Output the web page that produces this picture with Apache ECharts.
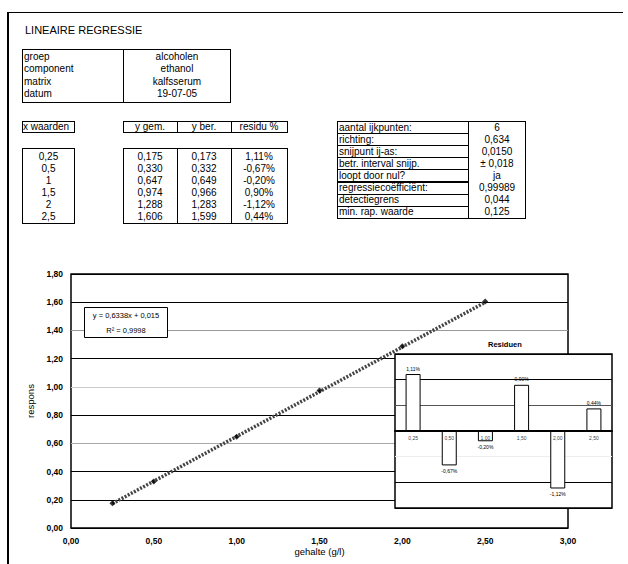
<!DOCTYPE html>
<html>
<head>
<meta charset="utf-8">
<script src="https://cdn.jsdelivr.net/npm/echarts@6/dist/echarts.min.js"></script>
<style>
  html,body{margin:0;padding:0;background:#fff;}
  body{width:628px;height:564px;position:relative;overflow:hidden;font-family:"Liberation Sans",Arial,sans-serif;color:#000;}
  #chart{position:absolute;left:0;top:0;width:628px;height:564px;}
  .t{position:absolute;font-size:10px;line-height:12px;height:12px;white-space:nowrap;}
  .c{text-align:center;}
  .box{position:absolute;border:1.5px solid #000;box-sizing:border-box;}
  .vl{position:absolute;border-left:1.5px solid #000;}
</style>
</head>
<body>
<div id="chart"></div>
<div id="doc"></div>
<script>
// ---------- data ----------
const infoLabels = ['groep', 'component', 'matrix', 'datum'];
const infoValues = ['alcoholen', 'ethanol', 'kalfsserum', '19-07-05'];
const xValues = [0.25, 0.5, 1, 1.5, 2, 2.5];
const yGem = [0.175, 0.330, 0.647, 0.974, 1.288, 1.606];
const yBer = [0.173, 0.332, 0.649, 0.966, 1.283, 1.599];
const residu = [1.11, -0.67, -0.20, 0.90, -1.12, 0.44];
const tableHeaders = ['y gem.', 'y ber.', 'residu %'];
const statLabels = ['aantal ijkpunten:', 'richting:', 'snijpunt ij-as:', 'betr. interval snijp.', 'loopt door nul?', 'regressiecoëfficiënt:', 'detectiegrens', 'min. rap. waarde'];
const statValues = ['6', '0,634', '0,0150', '± 0,018', 'ja', '0,99989', '0,044', '0,125'];
const equationLines = ['y = 0,6338x + 0,015', 'R² = 0,9998'];
const residuCategories = ['0,25', '0,50', '1,00', '1,50', '2,00', '2,50'];

const comma = (v, d) => v.toFixed(d).replace('.', ',');

// ---------- document (tables) ----------
const doc = document.getElementById('doc');
function el(cls, l, t, w, h, txt) {
  const d = document.createElement('div');
  d.className = cls;
  d.style.left = l + 'px'; d.style.top = t + 'px';
  if (w != null) d.style.width = w + 'px';
  if (h != null) d.style.height = h + 'px';
  if (txt != null) d.textContent = txt;
  doc.appendChild(d);
  return d;
}
// frame
const fr = el('', 7, 12, 614, 560);
fr.style.position = 'absolute';
fr.style.borderLeft = '2px solid #000';
fr.style.borderTop = '1.5px solid #000';
// title
const ti = el('t', 25, 24, null, null, 'LINEAIRE REGRESSIE');
ti.style.fontSize = '11px'; ti.style.lineHeight = '13px'; ti.style.height = '13px';
// info table
el('box', 22, 49, 209, 54);
el('vl', 123, 49, null, 54).style.height = '54px';
infoLabels.forEach((s, i) => el('t', 24, 51 + i * 12.3, null, null, s));
infoValues.forEach((s, i) => el('t c', 123, 51 + i * 12.3, 108, null, s));
// x waarden
el('box', 22, 121, 53, 12);
el('t', 23, 121, null, null, 'x waarden');
el('box', 22, 148, 53, 76);
xValues.forEach((v, i) => el('t c', 22, 151 + i * 12, 53, null, String(v).replace('.', ',')));
// y table
const colX = [123, 177, 231, 287];
tableHeaders.forEach((s, i) => {
  el('box', colX[i], 121, colX[i + 1] - colX[i] + 1, 12);
  el('t c', colX[i], 121, colX[i + 1] - colX[i], null, s);
});
el('box', 123, 148, 165, 76);
el('vl', 177, 148, null, 76); el('vl', 231, 148, null, 76);
[yGem, yBer].forEach((arr, c) => arr.forEach((v, i) => el('t c', colX[c], 151 + i * 12, colX[c + 1] - colX[c], null, comma(v, 3))));
residu.forEach((v, i) => el('t c', colX[2], 151 + i * 12, colX[3] - colX[2], null, comma(v, 2) + '%'));
// statistics table
statLabels.forEach((s, i) => {
  el('box', 337, 121 + i * 12.1, 132, 13.1);
  el('t', 339, 121.5 + i * 12.1, null, null, s);
});
el('box', 468, 121, 58, 98);
statValues.forEach((s, i) => el('t c', 468, 121.5 + i * 12.1, 58, null, s));

// ---------- chart ----------
const chart = echarts.init(document.getElementById('chart'), null, {renderer: 'svg'});
const axisFont = {fontSize: 8.5, color: '#000', fontWeight: 'bold', fontFamily: 'Liberation Sans'};
const option = {
  animation: false,
  grid: [
    {left: 71, top: 274, width: 497, height: 254, show: true, borderColor: '#000', borderWidth: 1.5, backgroundColor: 'transparent'},
    {left: 395, top: 354, width: 217, height: 154, show: true, borderColor: '#000', borderWidth: 1.5, backgroundColor: '#fff', z: 5}
  ],
  xAxis: [
    {type: 'value', gridIndex: 0, min: 0, max: 3, interval: 0.5,
     axisLine: {show: false}, axisTick: {show: false}, splitLine: {show: false},
     axisLabel: Object.assign({margin: 8, formatter: v => comma(v, 2)}, axisFont),
     name: 'gehalte (g/l)', nameLocation: 'middle', nameGap: 18,
     nameTextStyle: {fontSize: 9.5, color: '#000', fontFamily: 'Liberation Sans'}},
    {type: 'category', gridIndex: 1, data: residuCategories, z: 6,
     axisLine: {onZero: true, lineStyle: {color: '#000', width: 2}}, axisTick: {show: false},
     axisLabel: {show: false}}
  ],
  yAxis: [
    {type: 'value', gridIndex: 0, min: 0, max: 1.8, interval: 0.2,
     axisLine: {show: false}, axisTick: {show: false},
     splitLine: {show: true, lineStyle: {width: 1, color: ['#000', '#000', '#000', '#aaa', '#000', '#ccc', '#000', '#999', '#000', '#000']}},
     axisLabel: Object.assign({margin: 8, formatter: v => comma(v, 2)}, axisFont),
     name: 'respons', nameLocation: 'middle', nameGap: 34,
     nameTextStyle: {fontSize: 9.5, color: '#000', fontFamily: 'Liberation Sans'}},
    {type: 'value', gridIndex: 1, min: -1.5, max: 1.5, interval: 0.5, z: 6,
     axisLine: {show: false}, axisTick: {show: false}, axisLabel: {show: false},
     splitLine: {show: true, lineStyle: {width: 1, color: ['#000', '#000', '#eee', '#000', '#555', '#000', '#000']}}}
  ],
  series: [
    {type: 'line', xAxisIndex: 0, yAxisIndex: 0, data: xValues.map((x, i) => [x, yBer[i]]),
     showSymbol: false, lineStyle: {color: '#444', width: 3.5, type: [2, 1.5]}, z: 2},
    {type: 'scatter', xAxisIndex: 0, yAxisIndex: 0, data: xValues.map((x, i) => [x, yGem[i]]),
     symbol: 'diamond', symbolSize: 6, itemStyle: {color: '#000'}, z: 3},
    {type: 'bar', xAxisIndex: 1, yAxisIndex: 1, barWidth: 15, z: 7,
     data: residu.map(v => ({value: v, label: {position: v >= 0 ? 'top' : 'bottom'}})),
     itemStyle: {color: '#fff', borderColor: '#000', borderWidth: 1},
     label: {show: true, fontSize: 5, color: '#000', distance: 3, fontFamily: 'Liberation Sans',
             formatter: p => comma(p.value, 2) + '%'}},
    {type: 'scatter', xAxisIndex: 1, yAxisIndex: 1, z: 8, symbolSize: 0.1, silent: true,
     data: residuCategories.map(c => [c, 0]),
     itemStyle: {color: 'transparent'},
     label: {show: true, position: 'bottom', distance: 4, fontSize: 5, color: '#000', fontFamily: 'Liberation Sans',
             formatter: p => p.value[0]}}
  ],
  graphic: [
    {type: 'group', left: 84, top: 307, z: 100, children: [
      {type: 'rect', z: 100, shape: {x: 0, y: 0, width: 83, height: 30}, style: {fill: '#fff', stroke: '#000', lineWidth: 1}},
      {type: 'text', z: 101, x: 41.5, y: 8, style: {text: equationLines[0], fontSize: 7.5, fill: '#000', textAlign: 'center', textVerticalAlign: 'middle', fontFamily: 'Liberation Sans'}},
      {type: 'text', z: 101, x: 41.5, y: 23, style: {text: equationLines[1], fontSize: 7.5, fill: '#000', textAlign: 'center', textVerticalAlign: 'middle', fontFamily: 'Liberation Sans'}}
    ]},
    {type: 'text', left: 488, top: 340, z: 10, style: {text: 'Residuen', fontSize: 7.5, fontWeight: 'bold', fill: '#000', fontFamily: 'Liberation Sans'}}
  ]
};
chart.setOption(option);
</script>
</body>
</html>
